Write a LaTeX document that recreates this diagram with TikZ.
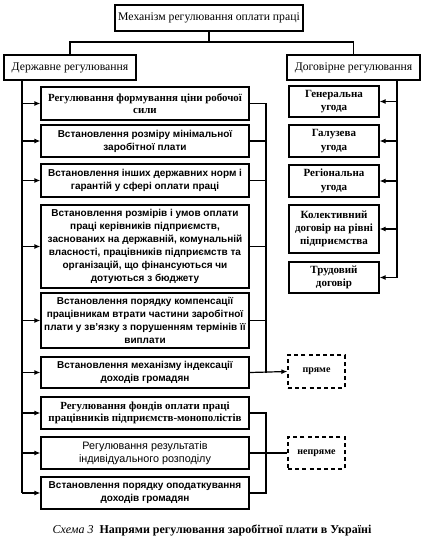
\documentclass[tikz,border=0pt]{standalone}
\usepackage{fontspec}
\setmainfont{Liberation Serif}
\newfontfamily\sansf{Liberation Sans}
\usetikzlibrary{arrows.meta}
\begin{document}
\begin{tikzpicture}[x=1pt,y=-1pt,
  box/.style={draw, line width=1.2pt, inner sep=0pt, align=center},
  lbox/.style={box, minimum width=208pt, font=\sansf\bfseries\fontsize{10}{13}\selectfont},
  lboxs/.style={box, minimum width=208pt, font=\bfseries\fontsize{10.9}{12.5}\selectfont},
  rbox/.style={box, minimum width=90pt, font=\bfseries\fontsize{11}{13.3}\selectfont},
  hbox/.style={box, font=\fontsize{11.7}{13}\selectfont},
  dbox/.style={draw, line width=1.3pt, dash pattern=on 4pt off 3.2pt, minimum width=57pt, font=\bfseries\fontsize{10}{12}\selectfont},
  conn/.style={line width=1.2pt},
  arr/.style={conn, -{Latex[length=6pt,width=5pt]}}]
\useasboundingbox (0,0) rectangle (423,544);
\node[hbox, minimum width=188pt, minimum height=26pt] (top) at (209,18) {Механізм регулювання оплати праці};
\node[hbox, minimum width=132pt, minimum height=25pt] (dz) at (70,67.5) {Державне регулювання};
\node[hbox, minimum width=133pt, minimum height=25pt] (dg) at (353.5,67.5) {Договірне регулювання};

\node[lboxs, minimum height=33pt] (L1) at (145,103.5) {Регулювання формування ціни робочої\\сили};
\node[lbox, minimum height=32pt] (L2) at (145,141) {Встановлення розміру мінімальної\\заробітної плати};
\node[lbox, minimum height=33pt] (L3) at (145,180.5) {Встановлення інших державних норм і\\гарантій у сфері оплати праці};
\node[lbox, minimum height=83pt] (L4) at (145,246.5) {Встановлення розмірів і умов оплати\\праці керівників підприємств,\\заснованих на державній, комунальній\\власності, працівників підприємств та\\організацій, що фінансуються чи\\дотуються з бюджету};
\node[lbox, minimum height=55pt] (L5) at (145,320.5) {Встановлення порядку компенсації\\працівникам втрати частини заробітної\\плати у зв’язку з порушенням термінів її\\виплати};
\node[lbox, minimum height=31pt] (L6) at (145,372.5) {Встановлення механізму індексації\\доходів громадян};
\node[lboxs, minimum height=32pt] (L7) at (145,413) {Регулювання фондів оплати праці\\працівників підприємств-монополістів};
\node[lbox, minimum height=32pt, font=\sansf\fontsize{10.8}{13}\selectfont] (L8) at (145,453) {Регулювання результатів\\індивідуального розподілу};
\node[lbox, minimum height=32pt] (L9) at (145,493) {Встановлення порядку оподаткування\\доходів громадян};

\node[rbox, minimum height=31pt] (R1) at (334,101.5) {Генеральна\\угода};
\node[rbox, minimum height=32pt] (R2) at (334,141) {Галузева\\угода};
\node[rbox, minimum height=32pt] (R3) at (334,181) {Регіональна\\угода};
\node[rbox, minimum height=48pt] (R4) at (334,229) {Колективний\\договір на рівні\\підприємства};
\node[rbox, minimum height=31pt] (R5) at (334,277.5) {Трудовий\\договір};

\node[dbox, minimum height=33pt] (P) at (316.5,371.5) {пряме};
\node[dbox, minimum height=32pt] (N) at (316.5,453) {непряме};

\coordinate (j) at (209,42);
\coordinate (hl) at (70,42);
\coordinate (hr) at (353.5,42);
\draw[conn] (top.south) -- (j);
\draw[conn] (dz.north) -- (hl) -- (hr) -- (dg.north);

\coordinate (ls) at (22,80);
\draw[conn] (ls) -- (ls |- L9.west);
\foreach \n in {L1,L2,L3,L4,L5,L6,L7,L8,L9}
  \draw[arr] (ls |- \n.west) -- (\n.west);

\coordinate (rs) at (266,80);
\draw[conn] (L1.east) -- (rs |- L1.east) -- (rs |- L6.east);
\foreach \n in {L2,L3,L4,L5}
  \draw[conn] (\n.east) -- (rs |- \n.east);
\draw[arr] (L6.east) -- (P.west);

\draw[conn] (L7.east) -- (rs |- L7.east) -- (rs |- L9.east) -- (L9.east);
\draw[conn] (L8.east) -- (rs |- L8.east) -- (N.west);

\coordinate (gs) at (397,80);
\draw[conn] (gs) -- (gs |- R5.east);
\foreach \n in {R1,R2,R3,R4,R5}
  \draw[arr] (gs |- \n.east) -- (\n.east);

\node[font=\fontsize{12}{14}\selectfont] (cap) at (212,530) {\textit{Схема 3}\ \ \textbf{Напрями регулювання заробітної плати в Україні}};
\end{tikzpicture}
\end{document}
